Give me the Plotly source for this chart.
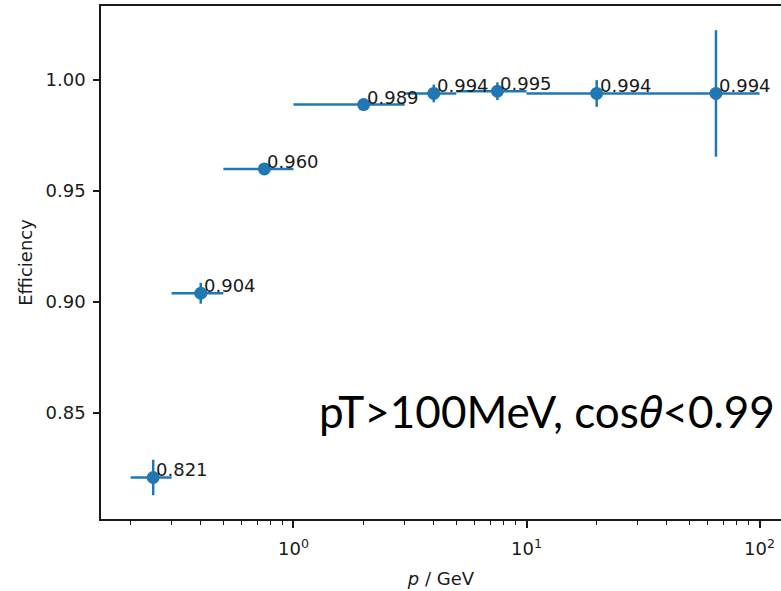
import numpy as np
import plotly.graph_objects as go

# ---- data ----
p_center = [0.25, 0.4, 0.75, 2.0, 4.0, 7.5, 20.0, 65.0]
p_low = [0.2, 0.3, 0.5, 1.0, 3.0, 5.0, 10.0, 30.0]
p_high = [0.3, 0.5, 1.0, 3.0, 5.0, 10.0, 30.0, 100.0]
efficiency = [0.821, 0.904, 0.960, 0.989, 0.994, 0.995, 0.994, 0.994]
eff_err = [0.008, 0.0047, 0.002, 0.0015, 0.004, 0.004, 0.006, 0.0285]

y_tickvals = [0.85, 0.90, 0.95, 1.00]
x_tickvals = [1, 10, 100]
x_ticktext = ["10<sup>0</sup>", "10<sup>1</sup>", "10<sup>2</sup>"]
x_minor = [0.2, 0.3, 0.4, 0.5, 0.6, 0.7, 0.8, 0.9,
           2, 3, 4, 5, 6, 7, 8, 9,
           20, 30, 40, 50, 60, 70, 80, 90]

note_text = ("pT&gt;100MeV, cos<span style=\"font-family:'Noto Sans'\"><i>θ</i></span>&lt;0.99")

BLUE = "#1f77b4"
INK = "#1a1a1a"
FONT = "DejaVu Sans"

err_plus = [h - c for h, c in zip(p_high, p_center)]
err_minus = [c - l for c, l in zip(p_center, p_low)]

fig = go.Figure()
fig.add_trace(go.Scatter(
    x=p_center, y=efficiency,
    mode="markers",
    marker=dict(color=BLUE, size=13),
    error_x=dict(type="data", symmetric=False, array=err_plus, arrayminus=err_minus,
                 color=BLUE, thickness=2.5, width=0),
    error_y=dict(type="data", array=eff_err, color=BLUE, thickness=2.5, width=0),
    showlegend=False,
))

annotations = []
for xc, e in zip(p_center, efficiency):
    annotations.append(dict(
        x=np.log10(xc), y=e, xref="x", yref="y",
        text=f"{e:.3f}", showarrow=False,
        xanchor="left", yanchor="bottom", yshift=-5, xshift=1,
        font=dict(family=FONT, size=18, color=INK),
    ))
annotations.append(dict(
    x=(317 - 101) / 680, y=0.21, xref="paper", yref="paper",
    text=note_text, showarrow=False, xanchor="left", yanchor="middle",
    font=dict(family="Lato", size=44, color="black"),
))

fig.update_layout(
    width=781, height=591,
    margin=dict(l=101, r=0, t=6, b=72),
    paper_bgcolor="white", plot_bgcolor="white",
    font=dict(family=FONT, size=18, color=INK),
    annotations=annotations,
)
fig.update_xaxes(
    type="log", range=[-0.826, 2.092],
    tickvals=x_tickvals, ticktext=x_ticktext,
    ticks="outside", ticklen=7, tickwidth=1.5, tickcolor=INK,
    showline=True, linecolor=INK, linewidth=1.5, mirror=True,
    showgrid=False, zeroline=False,
    minor=dict(tickvals=x_minor, ticks="outside", ticklen=4, tickwidth=1.2, tickcolor=INK, showgrid=False),
    title=dict(text="<i>p</i> / GeV", font=dict(family=FONT, size=18, color=INK), standoff=14),
    tickfont=dict(family=FONT, size=18, color=INK),
    ticklabelstandoff=6,
)
fig.update_yaxes(
    range=[0.8023, 1.0334],
    tickvals=y_tickvals, tickformat=".2f",
    ticks="outside", ticklen=6, tickwidth=1.5, tickcolor=INK,
    showline=True, linecolor=INK, linewidth=1.5, mirror=False,
    showgrid=False, zeroline=False,
    title=dict(text="Efficiency", font=dict(family=FONT, size=18, color=INK), standoff=8),
    tickfont=dict(family=FONT, size=18, color=INK),
    ticklabelstandoff=4,
)

fig.write_html("out.html", config={"displayModeBar": False},
               post_script="document.body.style.margin='0';")
